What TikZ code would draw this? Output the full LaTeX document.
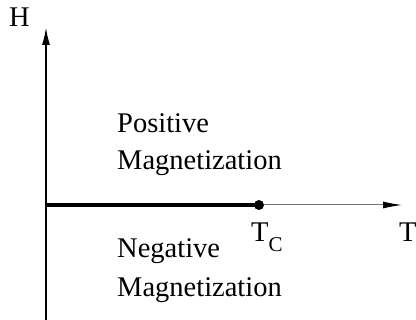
\documentclass[tikz,border=0pt]{standalone}
\usepackage{fontspec}
\setmainfont{Liberation Serif}
\usetikzlibrary{arrows.meta}
\begin{document}
\begin{tikzpicture}[x=1pt,y=-1pt,
  lbl/.style={anchor=base west,inner sep=0pt,font=\fontsize{28.5}{28.5}\selectfont},
  axis/.style={line width=1.8pt,-{Latex[length=18pt,width=8pt]}},
  thinaxis/.style={line width=1pt,draw=black!55,-{Latex[length=19pt,width=7pt,color=black]}},
  thick line/.style={line width=3.3pt},
  crit/.style={circle,fill=black,inner sep=0pt,minimum size=10pt}]
\useasboundingbox (0,0) rectangle (416,320);
\coordinate (O) at (46,205);
\coordinate (bot) at (46,320);
\coordinate (top) at (46,27);
\coordinate (right) at (402,205);
\node[crit] (tc) at (259,205) {};
\draw[axis] (bot) -- (top);
\draw[thinaxis] (tc) -- (right);
\draw[thick line] (O) -- (tc.center);
\node[lbl] (H) at (9,27) {H};
\node[lbl] (T) at (399,242) {T};
\node[lbl] (Tc) at (251,242) {T\raisebox{-10pt}{\fontsize{21}{21}\selectfont C}};
\node[lbl] (p1) at (117,133) {Positive};
\node[lbl] (p2) at (117,170) {Magnetization};
\node[lbl] (n1) at (117,258) {Negative};
\node[lbl] (n2) at (117,297) {Magnetization};
\end{tikzpicture}
\end{document}
